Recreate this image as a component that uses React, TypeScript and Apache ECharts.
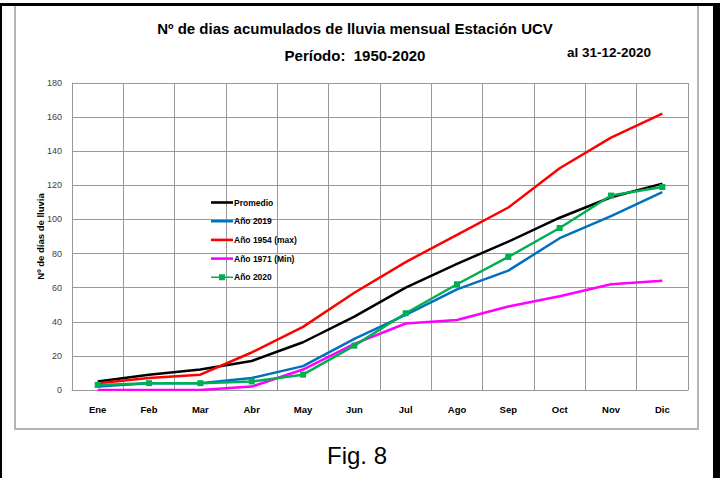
import React, { useEffect, useRef } from "react";
import * as echarts from "echarts";

const months = ["Ene", "Feb", "Mar", "Abr", "May", "Jun", "Jul", "Ago", "Sep", "Oct", "Nov", "Dic"];
const promedio = [5, 9, 12, 17, 28, 43, 60, 74, 87, 101, 113, 121];
const anio2019 = [2, 4, 4, 7, 14, 30, 44, 59, 70, 89, 102, 116];
const anio1954 = [4, 7, 9, 22, 37, 57, 75, 91, 107, 130, 148, 162];
const anio1971 = [0, 0, 0, 2, 12, 27, 39, 41, 49, 55, 62, 64];
const anio2020 = [3, 4, 4, 5, 9, 26, 45, 62, 78, 95, 114, 119];

const FONT = "'Liberation Sans', Arial, sans-serif";
const LINE_ICON = "path://M0,0 L22,0 L22,2.6 L0,2.6 Z";
const MARK_ICON = "path://M0,2.2 L22,2.2 L22,3.8 L0,3.8 Z M8,0 L14,0 L14,6 L8,6 Z";

export default function App() {
  const ref = useRef<HTMLDivElement>(null);
  useEffect(() => {
    document.body.style.margin = "0";
    const chart = echarts.init(ref.current!, null, { renderer: "svg" });
    const line = (name: string, data: number[], color: string, extra: any = {}) => ({
      name,
      type: "line",
      data,
      symbol: "none",
      lineStyle: { color, width: 2.5 },
      itemStyle: { color },
      ...extra,
    });
    chart.setOption({
      animation: false,
      backgroundColor: "#ffffff",
      textStyle: { fontFamily: FONT },
      title: [
        {
          text: "Nº de dias acumulados de lluvia mensual Estación UCV",
          left: 355,
          top: 21,
          padding: 0,
          textAlign: "center",
          textStyle: { fontSize: 15, fontWeight: "bold", color: "#000", fontFamily: FONT },
        },
        {
          text: "Período:  1950-2020",
          left: 355,
          top: 48,
          padding: 0,
          textAlign: "center",
          textStyle: { fontSize: 15, fontWeight: "bold", color: "#000", fontFamily: FONT },
        },
        {
          text: "al 31-12-2020",
          left: 567,
          top: 45,
          padding: 0,
          textStyle: { fontSize: 13.5, fontWeight: "bold", color: "#000", fontFamily: FONT },
        },
        {
          text: "Fig. 8",
          left: 357,
          top: 443,
          padding: 0,
          textAlign: "center",
          textStyle: { fontSize: 24, fontWeight: "normal", color: "#000", fontFamily: FONT },
        },
      ],
      graphic: [
        { type: "rect", shape: { x: 15, y: 5, width: 683, height: 424 }, style: { fill: "none", stroke: "#b4b4b4", lineWidth: 2 }, silent: true },
        { type: "rect", shape: { x: 0, y: 3, width: 720, height: 3 }, style: { fill: "#000" }, silent: true },
        { type: "rect", shape: { x: 0, y: 3, width: 2, height: 475 }, style: { fill: "#000" }, silent: true },
        { type: "rect", shape: { x: 713, y: 3, width: 7, height: 475 }, style: { fill: "#000" }, silent: true },
      ],
      legend: {
        orient: "vertical",
        left: 206,
        top: 193,
        itemWidth: 22,
        itemHeight: 10,
        itemGap: 9.7,
        symbolKeepAspect: true,
        textStyle: { fontSize: 8.5, fontWeight: "bold", color: "#000", fontFamily: FONT, padding: [0, 0, 0, -4] },
        data: [
          { name: "Promedio", icon: LINE_ICON },
          { name: "Año 2019", icon: LINE_ICON },
          { name: "Año 1954 (max)", icon: LINE_ICON },
          { name: "Año 1971 (Min)", icon: LINE_ICON },
          { name: "Año 2020", icon: MARK_ICON },
        ],
      },
      grid: { left: 72, right: 32, top: 83, bottom: 88, containLabel: false },
      xAxis: {
        type: "category",
        data: months,
        boundaryGap: true,
        axisTick: { show: false },
        axisLine: { lineStyle: { color: "#999", width: 1 } },
        axisLabel: { fontSize: 9.5, fontWeight: "bold", color: "#000", margin: 14, fontFamily: FONT },
        splitLine: { show: true, lineStyle: { color: "#999", width: 1 } },
      },
      yAxis: {
        type: "value",
        min: 0,
        max: 180,
        interval: 20,
        name: "Nº de días de lluvia",
        nameLocation: "middle",
        nameGap: 27,
        nameMoveOverlap: false,
        nameTextStyle: { fontSize: 9.5, fontWeight: "bold", color: "#000", fontFamily: FONT },
        axisLine: { show: true, lineStyle: { color: "#999", width: 1 } },
        axisTick: { show: false },
        axisLabel: { fontSize: 9, color: "#404040", margin: 10, fontFamily: FONT },
        splitLine: { show: true, lineStyle: { color: "#999", width: 1 } },
      },
      series: [
        line("Promedio", promedio, "#000000"),
        line("Año 2019", anio2019, "#0070C0"),
        line("Año 1954 (max)", anio1954, "#FF0000"),
        line("Año 1971 (Min)", anio1971, "#FF00FF"),
        line("Año 2020", anio2020, "#00B050", { symbol: "rect", symbolSize: 6, showSymbol: true }),
      ],
    });
    return () => chart.dispose();
  }, []);
  return <div ref={ref} style={{ position: "absolute", left: 0, top: 0, width: 720, height: 478 }} />;
}
